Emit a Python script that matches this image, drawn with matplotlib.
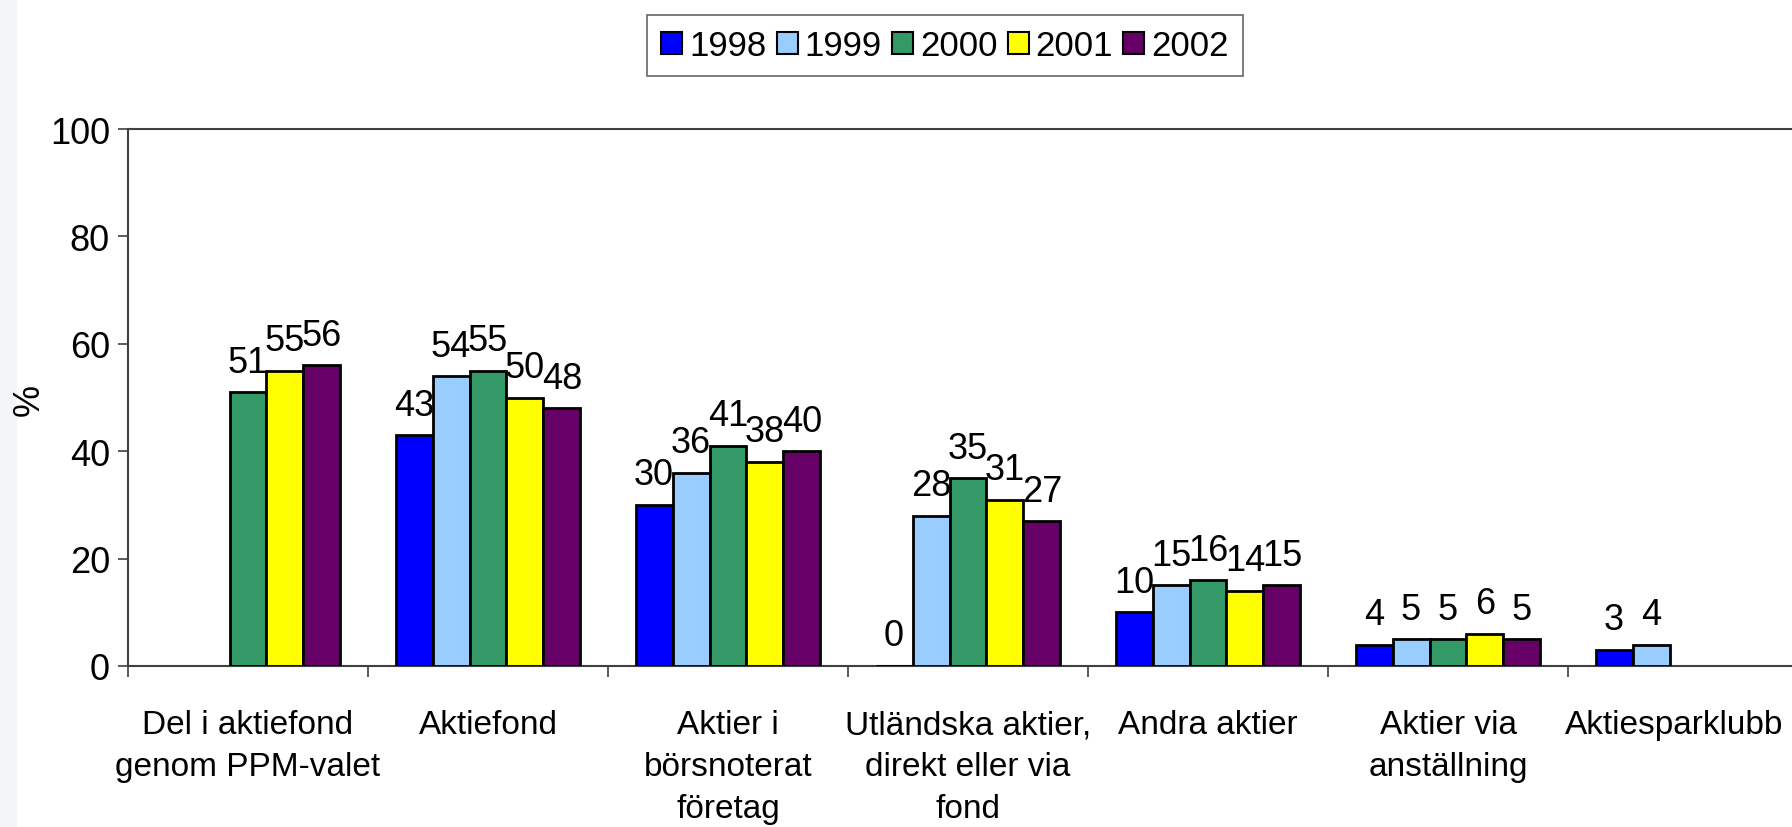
import numpy as np
import matplotlib.pyplot as plt
import matplotlib.transforms as mtransforms
from matplotlib.patches import Rectangle

# ---------- data ----------
categories = [
    "Del i aktiefond\ngenom PPM-valet",
    "Aktiefond",
    "Aktier i\nbörsnoterat\nföretag",
    "Utländska aktier,\ndirekt eller via\nfond",
    "Andra aktier",
    "Aktier via\nanställning",
    "Aktiesparklubb",
]
years = ["1998", "1999", "2000", "2001", "2002"]
v1998 = [np.nan, 43, 30, 0, 10, 4, 3]
v1999 = [np.nan, 54, 36, 28, 15, 5, 4]
v2000 = [51, 55, 41, 35, 16, 5, np.nan]
v2001 = [55, 50, 38, 31, 14, 6, np.nan]
v2002 = [56, 48, 40, 27, 15, 5, np.nan]
series = [v1998, v1999, v2000, v2001, v2002]
colors = ["#0000FF", "#99CCFF", "#339966", "#FFFF00", "#660066"]

plt.rcParams['font.family'] = ['Liberation Sans', 'DejaVu Sans']

fig = plt.figure(figsize=(17.92, 8.28), dpi=100)
fig.patches.append(Rectangle((0, 0), 16 / 1792, 1, transform=fig.transFigure,
                             color="#f3f5f8", zorder=0))
ax = fig.add_axes([128 / 1792, 1 - 667 / 828, 1680 / 1792, (667 - 130) / 828])

x = np.arange(len(categories))
bw = 0.154
for i, (vals, col, yr) in enumerate(zip(series, colors, years)):
    pos = x + (i - 2) * bw
    vals = np.array(vals, dtype=float)
    ok = ~np.isnan(vals)
    bars = ax.bar(pos[ok], vals[ok], width=bw, color=col, edgecolor="black",
                  linewidth=2, label=yr, zorder=3)
    for b, v in zip(bars, vals[ok]):
        ax.annotate(f"{int(v)}", (b.get_x() + b.get_width() / 2, v),
                    xytext=(0, 9), textcoords="offset points",
                    ha="center", va="bottom", fontsize=26)

ax.set_xlim(-0.5, len(categories) - 0.5)
ax.set_ylim(0, 100)
ax.set_yticks(range(0, 101, 20))
ax.tick_params(axis="y", labelsize=26, length=7, width=1.2, color="#404040", pad=6)

ax.set_xticks(x)
ax.set_xticklabels(categories, fontsize=24, linespacing=1.45)
ax.tick_params(axis="x", which="major", length=0, pad=31)
ax.set_xticks(np.arange(len(categories) + 1) - 0.5, minor=True)
ax.tick_params(axis="x", which="minor", length=8, width=1.2, color="#404040")
# last label sits close to the right edge, nudge it left a bit
last = ax.get_xticklabels()[-1]
last.set_transform(last.get_transform() +
                   mtransforms.ScaledTranslation(-14 / 100, 0, fig.dpi_scale_trans))

fig.text(29 / 1792, 1 - 400 / 828, "%", rotation=90, fontsize=26,
         ha="center", va="center")

for s in ["left", "bottom", "top"]:
    ax.spines[s].set_color("#404040")
    ax.spines[s].set_linewidth(1.5)
ax.spines["right"].set_visible(False)

leg = ax.legend(loc="upper center", bbox_to_anchor=(945 / 1792, 1 - 16 / 828),
                bbox_transform=fig.transFigure, ncol=5, fontsize=25,
                frameon=True, fancybox=False, edgecolor="#404040",
                handlelength=0.6, handleheight=0.6, handletextpad=0.2,
                columnspacing=0.3, borderpad=0.4, borderaxespad=0)
leg.get_frame().set_linewidth(1.2)
for h in leg.legend_handles:
    h.set_linewidth(1.5)

fig.savefig("out.png", dpi=100)
